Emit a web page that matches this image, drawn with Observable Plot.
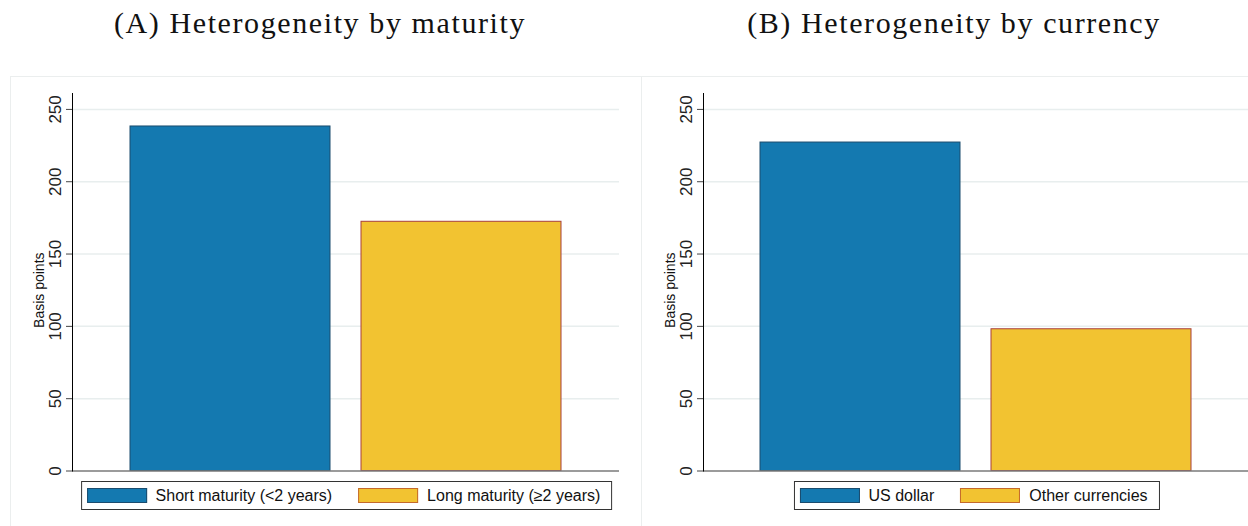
<!DOCTYPE html>
<html><head><meta charset="utf-8">
<script src="https://cdn.jsdelivr.net/npm/d3@7"></script>
<script src="https://cdn.jsdelivr.net/npm/@observablehq/plot@0.6"></script>
<style>
body{margin:0;background:#fff;width:1248px;height:526px;overflow:hidden;position:relative;font-family:"Liberation Sans",Arial,sans-serif}
.panel{position:absolute;top:76px;height:460px;width:640px;border-left:1px solid #ebeeee;border-top:1px solid #ebeeee}
.title{position:absolute;top:5px;font-family:"Liberation Serif",serif;font-size:30px;line-height:36px;letter-spacing:1.6px;white-space:nowrap;transform:translateX(-50%);color:#111}
.legend{position:absolute;top:481px;height:27px;border:1px solid #333;display:flex;align-items:center;padding:0 11px 0 5px;font-size:16px;color:#111;transform:translateX(-50%);white-space:nowrap;gap:26px;background:#fff}
.item{display:flex;align-items:center}
.sw{width:60px;height:15px;box-sizing:border-box;border:1.5px solid;margin-right:9px}
</style></head><body>
<script>
const panelA_title = "(A) Heterogeneity by maturity";
const panelA_categories = ["Short maturity (<2 years)", "Long maturity (≥2 years)"];
const panelA_values = [238.2, 172.3];
const panelB_title = "(B) Heterogeneity by currency";
const panelB_categories = ["US dollar", "Other currencies"];
const panelB_values = [227.1, 98];
const yTicks = [0, 50, 100, 150, 200, 250];
const yLabel = "Basis points";
const fills = ["#1479b0", "#f2c331"];
const edges = ["#1b4c6e", "#a8413c"];
const legendEdges = ["#1b4c6e", "#c46a2c"];

function panel(title, cats, vals, pageLeft, svgLeft, width, marginRight, titleCenter) {
  const fr = document.createElement("div");
  fr.className = "panel"; fr.style.left = pageLeft + "px";
  document.body.appendChild(fr);

  const t = document.createElement("div");
  t.className = "title"; t.textContent = title; t.style.left = titleCenter + "px";
  document.body.appendChild(t);

  const data = cats.map((c, i) => ({cat: c, value: vals[i], fill: fills[i], edge: edges[i]}));
  const chart = Plot.plot({
    width, height: 400,
    marginLeft: 72, marginRight, marginTop: 16, marginBottom: 6.5,
    x: {domain: cats, paddingInner: 0.134, paddingOuter: 0.246, axis: null},
    y: {domain: [0, 261], axis: null},
    style: {fontFamily: "Liberation Sans, Arial, sans-serif", fontSize: "16px", color: "#222", background: "transparent", overflow: "visible"},
    marks: [
      Plot.gridY(yTicks.slice(1), {stroke: "#e8eeee", strokeOpacity: 1, strokeWidth: 1.5}),
      Plot.barY(data, {x: "cat", y: "value", fill: "fill", stroke: "edge", strokeWidth: 1}),
      Plot.ruleY([0], {stroke: "#7a7a7a", strokeWidth: 1.5}),
      Plot.axisY(yTicks, {tickRotate: -90, tickSize: 6, tickPadding: 6, label: null, stroke: "#444", fill: "#222", fontSize: 17}),
      Plot.frame({anchor: "left", stroke: "#000", strokeOpacity: 1}),
      Plot.text([yLabel], {text: d => d, y: () => 125, frameAnchor: "left", textAnchor: "middle", rotate: -90, dx: -33, fontSize: 14, fill: "#111"})
    ]
  });
  chart.style.position = "absolute";
  chart.style.left = svgLeft + "px";
  chart.style.top = "77px";
  document.body.appendChild(chart);

  const lg = document.createElement("div");
  lg.className = "legend";
  lg.style.left = (svgLeft + 72 + (width - 72 - marginRight) / 2 + 1) + "px";
  cats.forEach((c, i) => {
    const it = document.createElement("div"); it.className = "item";
    const sw = document.createElement("div"); sw.className = "sw";
    sw.style.background = fills[i]; sw.style.borderColor = legendEdges[i];
    const tx = document.createElement("span"); tx.textContent = c;
    it.appendChild(sw); it.appendChild(tx); lg.appendChild(it);
  });
  document.body.appendChild(lg);
}

panel(panelA_title, panelA_categories, panelA_values, 10, 0, 631, 12, 320);
panel(panelB_title, panelB_categories, panelB_values, 641, 631, 617, 0, 954);
</script>
</body></html>
